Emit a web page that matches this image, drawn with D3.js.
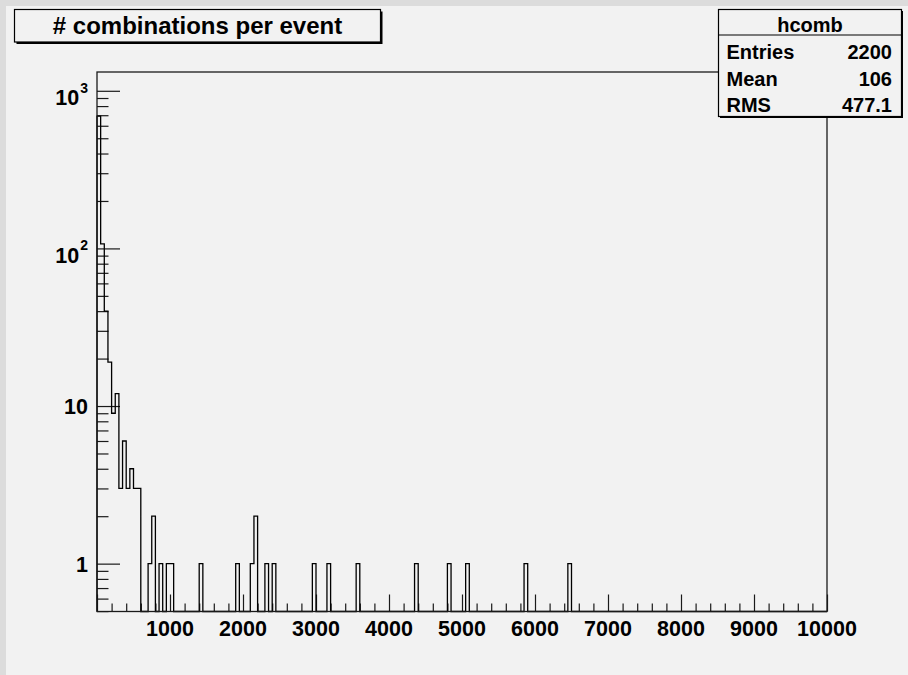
<!DOCTYPE html>
<html>
<head>
<meta charset="utf-8">
<script src="https://cdn.jsdelivr.net/npm/d3@7"></script>
<style>
  html, body { margin: 0; padding: 0; background: #f2f2f2; }
  svg { display: block; }
  text { font-family: "Liberation Sans", Arial, Helvetica, sans-serif; fill: #000; }
</style>
</head>
<body>
<svg id="chart" width="908" height="675"></svg>
<script>
// Histogram "hcomb": number of combinations per event, 200 bins of 50 on [0, 10000]
const histName = "hcomb";
const titleText = "# combinations per event";
const xMin = 0;
const xMax = 10000;
const binWidth = 50;

// Non-empty bins: lower edge and content
const binLowEdges = [0, 50, 100, 150, 200, 250, 300, 350, 400, 450, 500, 550,
                     700, 750, 850, 950, 1000, 1400, 1900, 2100, 2150, 2300, 2400,
                     2950, 3150, 3550, 4350, 4800, 5050, 5850, 6450];
const binCounts   = [690, 107, 40, 19, 9, 12, 3, 6, 3, 4, 3, 3,
                     1, 2, 1, 1, 1, 1, 1, 1, 2, 1, 1,
                     1, 1, 1, 1, 1, 1, 1, 1];

// Axis ticks and labels
const xMajorTicks = [0, 1000, 2000, 3000, 4000, 5000, 6000, 7000, 8000, 9000, 10000];
const xTickLabels = ["1000", "2000", "3000", "4000", "5000", "6000", "7000", "8000", "9000", "10000"];
const xLabelValues = [1000, 2000, 3000, 4000, 5000, 6000, 7000, 8000, 9000, 10000];
const xMinorStep = 200;

const yMin = 0.497;
const yMax = 1316;
const yMajorTicks = [1, 10, 100, 1000];
const yLabelBase = ["1", "10", "10", "10"];
const yLabelExp  = ["", "", "2", "3"];

// Statistics box
const statNames  = ["Entries", "Mean", "RMS"];
const statValues = ["2200", "106", "477.1"];

// ---- layout ----
const frame = { left: 97, right: 827, top: 72, bottom: 611.5 };

const svg = d3.select("#chart");

// canvas background with darker top / left border strips
svg.append("rect").attr("x", 0).attr("y", 0).attr("width", 908).attr("height", 675).attr("fill", "#f2f2f2");
svg.append("rect").attr("x", 0).attr("y", 0).attr("width", 908).attr("height", 6).attr("fill", "#dcdcdc");
svg.append("rect").attr("x", 0).attr("y", 0).attr("width", 6).attr("height", 675).attr("fill", "#dcdcdc");

const x = d3.scaleLinear().domain([xMin, xMax]).range([frame.left, frame.right]);
const y = d3.scaleLog().domain([yMin, yMax]).range([frame.bottom, frame.top]);

// full bin contents
const nBins = Math.round((xMax - xMin) / binWidth);
const contents = new Array(nBins).fill(0);
binLowEdges.forEach((e, i) => { contents[Math.round((e - xMin) / binWidth)] = binCounts[i]; });

// ---- ticks ----
const minorX = d3.range(xMin, xMax + 1, xMinorStep).filter(v => v % 1000 !== 0);

const xMajorAxis = d3.axisBottom(x).tickValues(xMajorTicks).tickSizeInner(-17).tickSizeOuter(0).tickFormat("");
const xMinorAxis = d3.axisBottom(x).tickValues(minorX).tickSizeInner(-8).tickSizeOuter(0).tickFormat("");

function styleTicks(g) {
  g.select(".domain").remove();
  g.selectAll(".tick line").attr("stroke", "#1a1a1a").attr("stroke-width", 1.2);
}

svg.append("g").attr("transform", `translate(0,${frame.bottom})`).call(xMajorAxis).call(styleTicks);
svg.append("g").attr("transform", `translate(0,${frame.bottom})`).call(xMinorAxis).call(styleTicks);

// y minor ticks: 2..9 times each decade inside the domain
const minorY = [];
for (let p = -1; p <= 3; p++) {
  for (let m = 2; m <= 9; m++) {
    const v = m * Math.pow(10, p);
    if (v > yMin && v < yMax) minorY.push(v);
  }
}
const yMajorAxis = d3.axisLeft(y).tickValues(yMajorTicks).tickSizeInner(-23).tickSizeOuter(0).tickFormat("");
const yMinorAxis = d3.axisLeft(y).tickValues(minorY).tickSizeInner(-11.5).tickSizeOuter(0).tickFormat("");
svg.append("g").attr("transform", `translate(${frame.left},0)`).call(yMajorAxis).call(styleTicks);
svg.append("g").attr("transform", `translate(${frame.left},0)`).call(yMinorAxis).call(styleTicks);

// ---- histogram outline ----
const pts = [[xMin, 0]];
contents.forEach((c, i) => pts.push([xMin + i * binWidth, c]));
pts.push([xMax, contents[nBins - 1]]);
pts.push([xMax, 0]);

const line = d3.line()
  .curve(d3.curveStepAfter)
  .x(d => x(d[0]))
  .y(d => d[1] > 0 ? y(d[1]) : frame.bottom);

svg.append("path")
  .datum(pts)
  .attr("d", line)
  .attr("fill", "none")
  .attr("stroke", "#000")
  .attr("stroke-width", 1.3);

// ---- frame ----
svg.append("rect")
  .attr("x", frame.left).attr("y", frame.top)
  .attr("width", frame.right - frame.left).attr("height", frame.bottom - frame.top)
  .attr("fill", "none").attr("stroke", "#1a1a1a").attr("stroke-width", 1.3);

// ---- axis labels ----
svg.append("g").selectAll("text")
  .data(xLabelValues)
  .join("text")
  .attr("x", d => x(d))
  .attr("y", 636)
  .attr("text-anchor", "middle")
  .attr("font-size", 21.5)
  .attr("font-weight", "bold")
  .text((d, i) => xTickLabels[i]);

const yLab = svg.append("g").selectAll("text")
  .data(yMajorTicks)
  .join("text")
  .attr("x", 88)
  .attr("y", (d, i) => y(d) + (yLabelExp[i] ? 14.5 : 8))
  .attr("text-anchor", "end")
  .attr("font-size", 21.5)
  .attr("font-weight", "bold");
yLab.append("tspan").text((d, i) => yLabelBase[i]);
yLab.filter((d, i) => yLabelExp[i] !== "")
  .append("tspan")
  .attr("dx", 1)
  .attr("dy", -12.5)
  .attr("font-size", 14)
  .text(d => yLabelExp[yMajorTicks.indexOf(d)]);

// ---- title box ----
const title = svg.append("g");
title.append("rect").attr("x", 16.5).attr("y", 11.5).attr("width", 366).attr("height", 32.5).attr("fill", "#000");
title.append("rect").attr("x", 14.5).attr("y", 9.5).attr("width", 366).attr("height", 32.5)
  .attr("fill", "#f2f2f2").attr("stroke", "#000").attr("stroke-width", 1.2);
title.append("text")
  .attr("x", 197.5).attr("y", 33.5)
  .attr("text-anchor", "middle")
  .attr("font-size", 24)
  .attr("font-weight", "bold")
  .text(titleText);

// ---- statistics box ----
const stats = svg.append("g");
stats.append("rect").attr("x", 720).attr("y", 11).attr("width", 183).attr("height", 107).attr("fill", "#000");
stats.append("rect").attr("x", 718.5).attr("y", 9.5).attr("width", 183).attr("height", 107)
  .attr("fill", "#f2f2f2").attr("stroke", "#000").attr("stroke-width", 1.2);
stats.append("line").attr("x1", 718.5).attr("x2", 901.5).attr("y1", 35).attr("y2", 35)
  .attr("stroke", "#000").attr("stroke-width", 1.2);
stats.append("text")
  .attr("x", 810).attr("y", 31.5)
  .attr("text-anchor", "middle")
  .attr("font-size", 20)
  .attr("font-weight", "bold")
  .text(histName);

const rowBase = [59, 85.5, 112];
stats.selectAll("text.name")
  .data(statNames)
  .join("text")
  .attr("class", "name")
  .attr("x", 726.5)
  .attr("y", (d, i) => rowBase[i])
  .attr("font-size", 20)
  .attr("font-weight", "bold")
  .text(d => d);
stats.selectAll("text.val")
  .data(statValues)
  .join("text")
  .attr("class", "val")
  .attr("x", 892)
  .attr("y", (d, i) => rowBase[i])
  .attr("text-anchor", "end")
  .attr("font-size", 20)
  .attr("font-weight", "bold")
  .text(d => d);
</script>
</body>
</html>
